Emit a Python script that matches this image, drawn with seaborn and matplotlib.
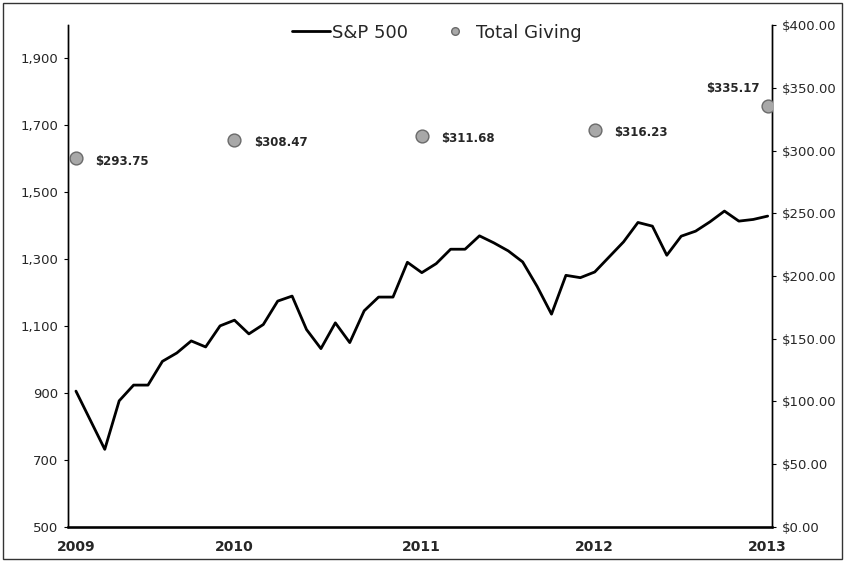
import numpy as np
import pandas as pd
import matplotlib
matplotlib.use("Agg")
import matplotlib.pyplot as plt
import seaborn as sns
from matplotlib.lines import Line2D
from matplotlib.patches import Rectangle

# ---- data ----
sp500 = [906, 819, 732, 877, 924, 924, 995, 1020, 1056, 1038, 1101, 1118,
         1077, 1105, 1175, 1190, 1090, 1033, 1110, 1051, 1146, 1187, 1187, 1291,
         1260, 1287, 1330, 1330, 1370, 1349, 1325, 1292, 1219, 1136, 1252, 1245,
         1262, 1307, 1352, 1410, 1399, 1312, 1369, 1384, 1412, 1444, 1414, 1419,
         1429]
giving = [293.75, 308.47, 311.68, 316.23, 335.17]
giving_labels = ["$293.75", "$308.47", "$311.68", "$316.23", "$335.17"]
giving_month = [0, 11, 24, 36, 48]          # category index of each annual value
year_labels = ["2009", "2010", "2011", "2012", "2013"]
left_ticks = [500, 700, 900, 1100, 1300, 1500, 1700, 1900]
right_ticks = [0, 50, 100, 150, 200, 250, 300, 350, 400]

sp_df = pd.DataFrame({"month": np.arange(len(sp500)), "value": sp500})
gv_df = pd.DataFrame({"month": giving_month, "value": giving, "label": giving_labels})

sns.set_style("white")
plt.rcParams["font.family"] = ["DejaVu Sans"]

fig = plt.figure(figsize=(8.45, 5.62), dpi=100)
ax = fig.add_axes([0.0805, 0.0623, 0.9136 - 0.0805, 0.9555 - 0.0623])
ax2 = ax.twinx()

sns.lineplot(data=sp_df, x="month", y="value", ax=ax, color="black", lw=2.0,
             legend=False)
sns.scatterplot(data=gv_df, x="month", y="value", ax=ax2, s=85,
                color="#a8a8a8", edgecolor="#6a6a6a", linewidth=1.0,
                legend=False, zorder=5)

for i, row in gv_df.iterrows():
    if i < len(gv_df) - 1:
        ax2.annotate(row["label"], (row["month"], row["value"]),
                     xytext=(14, -2), textcoords="offset points",
                     ha="left", va="center", fontsize=8.5, fontweight="bold")
    else:
        ax2.annotate(row["label"], (row["month"], row["value"]),
                     xytext=(-6, 13), textcoords="offset points",
                     ha="right", va="center", fontsize=8.5, fontweight="bold")

ax.set_xlim(-0.55, 48.3)
ax.set_ylim(500, 2000)
ax2.set_ylim(0, 400)

ax.set_xticks(giving_month)
ax.set_xticklabels(year_labels, fontsize=10, fontweight="bold")
ax.set_yticks(left_ticks)
ax.set_yticklabels([f"{v:,}" for v in left_ticks], fontsize=9.5)
ax2.set_yticks(right_ticks)
ax2.set_yticklabels([f"${v:.2f}" for v in right_ticks], fontsize=9.5)

ax.set_xlabel("")
ax.set_ylabel("")
ax2.set_ylabel("")

for a in (ax, ax2):
    a.spines["top"].set_visible(False)
    for s in ("left", "right", "bottom"):
        a.spines[s].set_color("black")
        a.spines[s].set_linewidth(1.0)
ax.spines["bottom"].set_linewidth(1.8)
ax.tick_params(axis="y", which="both", left=True, length=3, width=0.8,
               color="black", pad=4)
ax.tick_params(axis="x", bottom=False, pad=6)
ax2.tick_params(axis="y", right=True, length=3, width=0.8, color="black", pad=4)

handles = [
    Line2D([], [], color="black", lw=2.0, label="S&P 500"),
    Line2D([], [], marker="o", ls="none", markersize=5.5, markerfacecolor="#a8a8a8",
           markeredgecolor="#6a6a6a", label="Total Giving"),
]
fig.legend(handles=handles, loc="center", bbox_to_anchor=(0.517, 0.942), ncol=2,
           frameon=False, fontsize=13, handlelength=2.1, handletextpad=0.1,
           columnspacing=1.6)

fig.patches.append(Rectangle((0.004, 0.005), 0.992, 0.99, transform=fig.transFigure,
                             fill=False, edgecolor="#333333", lw=1.0))

fig.savefig("out.png", dpi=100)
